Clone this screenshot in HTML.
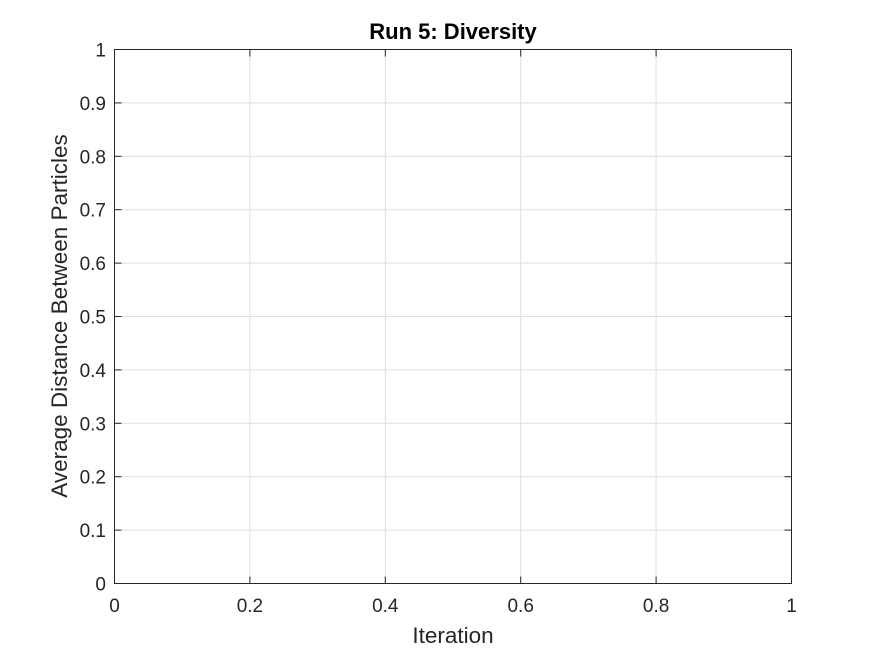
<!DOCTYPE html>
<html><head><meta charset="utf-8"><style>
html,body{margin:0;padding:0;background:#fff;}
svg text{font-family:"Liberation Sans",Arial,sans-serif;fill:#262626;}
</style></head><body>
<svg id="chart" width="875" height="656" xmlns="http://www.w3.org/2000/svg">
<rect width="875" height="656" fill="#fff"/>
<g id="grid"></g>
<g id="ticks"></g>
<rect x="114.5" y="49.5" width="677" height="534" fill="none" stroke="#262626" stroke-width="1"/>
<text x="453" y="39" text-anchor="middle" font-size="22" font-weight="bold" style="fill:#000">Run 5: Diversity</text>
<text x="453" y="643" text-anchor="middle" font-size="22.5">Iteration</text>
<text transform="translate(67,316) rotate(-90)" text-anchor="middle" font-size="22.5">Average Distance Between Particles</text>
</svg>
<script>
const xTicks=[0,0.2,0.4,0.6,0.8,1];
const xTickLabels=["0","0.2","0.4","0.6","0.8","1"];
const yTicks=[0,0.1,0.2,0.3,0.4,0.5,0.6,0.7,0.8,0.9,1];
const yTickLabels=["0","0.1","0.2","0.3","0.4","0.5","0.6","0.7","0.8","0.9","1"];
const L=114.5,R=791.5,T=49.5,B=583.5;
const xs=v=>L+(R-L)*v, ys=v=>B-(B-T)*v;
const NS="http://www.w3.org/2000/svg";
const grid=document.getElementById('grid'), ticks=document.getElementById('ticks');
function line(p,x1,y1,x2,y2,c,name){const l=document.createElementNS(NS,'line');
l.setAttribute('x1',x1);l.setAttribute('y1',y1);l.setAttribute('x2',x2);l.setAttribute('y2',y2);
l.setAttribute('stroke',c);l.setAttribute('stroke-width','1');


p.appendChild(l);}
function text(x,y,s,anchor,name){const t=document.createElementNS(NS,'text');
t.setAttribute('x',x);t.setAttribute('y',y);t.setAttribute('text-anchor',anchor);t.setAttribute('font-size','19');
t.textContent=s;


ticks.appendChild(t);}
xTicks.forEach((v,i)=>{const x=xs(v);
line(grid,x,T,x,B,'#dfdfdf','x-grid-line');
line(ticks,x,B,x,B-7,'#262626','x-tick');line(ticks,x,T,x,T+7,'#262626','x-tick-top');
text(x,612,xTickLabels[i],'middle','x-tick-label');});
yTicks.forEach((v,i)=>{const y=ys(v);
line(grid,L,y,R,y,'#dfdfdf','y-grid-line');
line(ticks,L,y,L+7,y,'#262626','y-tick');line(ticks,R,y,R-7,y,'#262626','y-tick-right');
text(106,y+7,yTickLabels[i],'end','y-tick-label');});
</script>
</body></html>
